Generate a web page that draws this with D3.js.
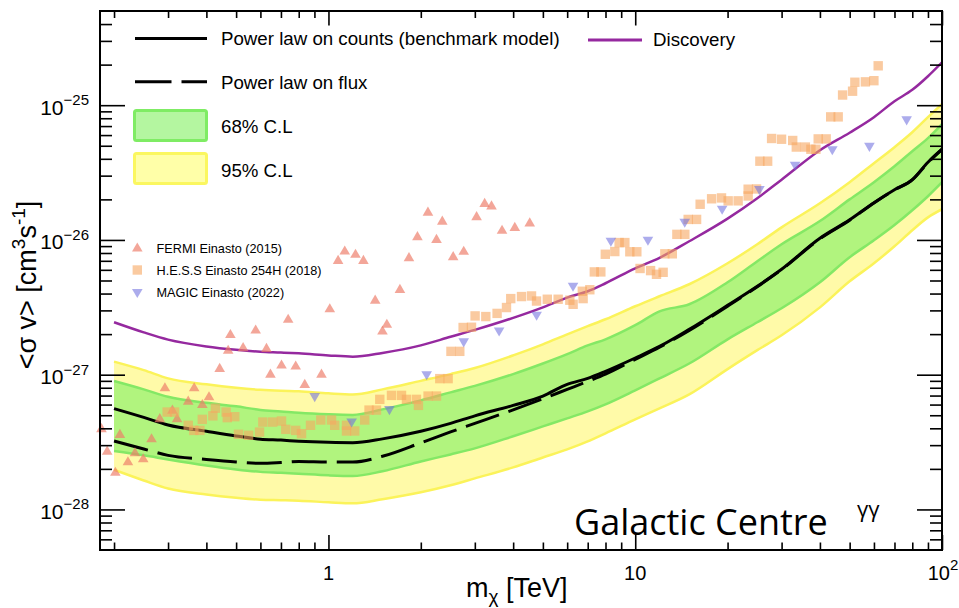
<!DOCTYPE html>
<html>
<head>
<meta charset="utf-8">
<script src="https://cdn.jsdelivr.net/npm/d3@7"></script>
<style>
  body { margin: 0; background: #fff; }
  svg { display: block; }
</style>
</head>
<body>
<svg id="chart" width="959" height="608"></svg>
<script>
// ---- Expected limits on <sigma v> for DM -> gamma gamma, Galactic Centre ----
// Dark-matter mass grid (TeV) on which the limit curves and bands are given
const massGrid = [0.2, 0.25, 0.3, 0.4, 0.5, 0.6, 0.7, 0.8, 1, 1.2, 1.5, 2, 2.5, 3, 4, 5, 6, 7, 8,
  10, 12, 15, 20, 25, 30, 40, 50, 60, 70, 80, 90, 100];

// Power law on counts (benchmark model), cm^3 s^-1
const countsLimit = [5.60e-28, 4.82e-28, 4.23e-28, 3.80e-28, 3.51e-28, 3.32e-28, 3.27e-28, 3.21e-28,
  3.15e-28, 3.13e-28, 3.34e-28, 3.80e-28, 4.35e-28, 4.95e-28, 5.92e-28, 6.94e-28, 8.48e-28, 9.39e-28,
  1.06e-27, 1.33e-27, 1.62e-27, 2.17e-27, 3.27e-27, 4.53e-27, 6.06e-27, 1.03e-26, 1.41e-26, 1.89e-26,
  2.36e-26, 2.80e-26, 3.77e-26, 4.71e-26];

// Power law on flux
const fluxLimit = [3.22e-28, 2.81e-28, 2.52e-28, 2.35e-28, 2.25e-28, 2.20e-28, 2.23e-28, 2.27e-28,
  2.25e-28, 2.25e-28, 2.48e-28, 3.12e-28, 3.76e-28, 4.35e-28, 5.48e-28, 6.62e-28, 7.78e-28, 8.92e-28,
  1.01e-27, 1.30e-27, 1.60e-27, 2.13e-27, 3.22e-27, 4.50e-27, 6.03e-27, 1.02e-26, 1.40e-26, 1.88e-26,
  2.35e-26, 2.79e-26, 3.75e-26, 4.70e-26];

// Discovery reach
const discovery = [2.45e-27, 2.06e-27, 1.82e-27, 1.62e-27, 1.53e-27, 1.48e-27, 1.46e-27, 1.44e-27,
  1.39e-27, 1.36e-27, 1.45e-27, 1.65e-27, 1.91e-27, 2.15e-27, 2.64e-27, 3.16e-27, 3.73e-27, 4.16e-27,
  4.77e-27, 6.16e-27, 7.37e-27, 9.78e-27, 1.44e-26, 2.04e-26, 2.80e-26, 4.63e-26, 6.25e-26, 8.15e-26,
  1.07e-25, 1.30e-25, 1.64e-25, 2.08e-25];

// 68% containment band
const band68High = [8.97e-28, 7.78e-28, 6.85e-28, 6.18e-28, 5.82e-28, 5.48e-28, 5.34e-28, 5.21e-28,
  5.08e-28, 5.03e-28, 5.53e-28, 6.45e-28, 7.39e-28, 8.26e-28, 1.01e-27, 1.21e-27, 1.42e-27, 1.65e-27,
  1.83e-27, 2.33e-27, 2.95e-27, 3.33e-27, 4.85e-27, 6.95e-27, 9.29e-27, 1.38e-26, 2.00e-26, 2.68e-26,
  3.52e-26, 4.55e-26, 5.69e-26, 7.23e-26];
const band68Low = [2.71e-28, 2.52e-28, 2.35e-28, 2.12e-28, 1.98e-28, 1.90e-28, 1.87e-28, 1.84e-28,
  1.79e-28, 1.77e-28, 1.92e-28, 2.27e-28, 2.56e-28, 2.84e-28, 3.49e-28, 4.13e-28, 4.74e-28, 5.34e-28,
  6.02e-28, 7.65e-28, 9.39e-28, 1.21e-27, 1.83e-27, 2.45e-27, 3.11e-27, 4.85e-27, 7.44e-27, 9.94e-27,
  1.29e-26, 1.66e-26, 2.11e-26, 2.68e-26];

// 95% containment band
const band95High = [1.25e-27, 1.08e-27, 9.39e-28, 8.48e-28, 7.99e-28, 7.72e-28, 7.59e-28, 7.52e-28,
  7.27e-28, 7.14e-28, 7.78e-28, 9.00e-28, 1.01e-27, 1.12e-27, 1.39e-27, 1.68e-27, 1.99e-27, 2.29e-27,
  2.58e-27, 3.22e-27, 3.82e-27, 4.69e-27, 6.71e-27, 9.29e-27, 1.24e-26, 1.87e-26, 2.68e-26, 3.71e-26,
  4.88e-26, 6.30e-26, 8.15e-26, 1.02e-25];
const band95Low = [1.97e-28, 1.64e-28, 1.43e-28, 1.29e-28, 1.22e-28, 1.18e-28, 1.17e-28, 1.16e-28,
  1.13e-28, 1.11e-28, 1.19e-28, 1.34e-28, 1.51e-28, 1.70e-28, 2.05e-28, 2.43e-28, 2.79e-28, 3.20e-28,
  3.67e-28, 4.66e-28, 5.62e-28, 7.14e-28, 1.10e-27, 1.52e-27, 1.96e-27, 3.16e-27, 4.93e-27, 6.71e-27,
  8.97e-27, 1.18e-26, 1.47e-26, 1.69e-26];

// FERMI Einasto (2015)
const fermiMass = [0.182, 0.190, 0.202, 0.209, 0.222, 0.234, 0.249, 0.265, 0.282, 0.293, 0.310, 0.321,
  0.349, 0.365, 0.388, 0.408, 0.442, 0.471, 0.479, 0.527, 0.579, 0.628, 0.647, 0.703, 0.739, 0.782,
  0.837, 0.949, 1.01, 1.075, 1.13, 1.225, 1.30, 1.42, 1.50, 1.55, 1.71, 1.83, 1.95, 2.11, 2.25, 2.35,
  2.55, 2.76, 3.04, 3.23, 3.40, 3.68, 4.05, 4.53];
const fermiSigmaV = [3.98e-28, 2.71e-28, 1.89e-28, 3.61e-28, 2.26e-28, 2.64e-28, 2.38e-28, 3.35e-28,
  4.72e-28, 8.01e-28, 5.46e-28, 4.72e-28, 6.37e-28, 8.01e-28, 6.02e-28, 6.87e-28, 1.115e-27, 1.52e-27,
  1.99e-27, 1.59e-27, 2.15e-27, 1.57e-27, 1.01e-27, 1.18e-27, 2.58e-27, 1.16e-27, 8.48e-28, 1.01e-27,
  3.09e-27, 7.06e-27, 8.28e-27, 7.83e-27, 7.06e-27, 3.58e-27, 2.11e-27, 2.37e-27, 4.30e-27, 7.40e-27,
  1.06e-26, 1.61e-26, 1.01e-26, 1.38e-26, 7.53e-27, 8.24e-27, 1.49e-26, 1.87e-26, 1.79e-26, 1.18e-26,
  1.24e-26, 1.34e-26];

// H.E.S.S Einasto 254H (2018)
const hessMass = [0.298, 0.315, 0.349, 0.364, 0.381, 0.388, 0.420, 0.428, 0.464, 0.468,
  0.495, 0.509, 0.549, 0.596, 0.611, 0.658, 0.703, 0.726, 0.782, 0.817,
  0.874, 0.944, 1.023, 1.048, 1.145, 1.145, 1.218, 1.313, 1.356, 1.434,
  1.470, 1.605, 1.730, 1.796, 1.936, 1.965, 2.112, 2.250, 2.306, 2.455,
  2.508, 2.680, 2.748, 2.926, 3.006, 3.258, 3.546, 3.805, 3.929, 4.259,
  4.591, 4.767, 5.169, 5.607, 6.121, 6.274, 6.723, 6.763, 7.112, 7.356,
  7.724, 7.989, 8.580, 8.862, 9.250, 9.603, 10.12, 10.37, 11.22, 11.73,
  12.33, 12.49, 13.21, 13.67, 14.51, 14.88, 15.85, 16.28, 17.74, 19.11,
  20.09, 21.65, 23.34, 23.34, 24.86, 25.49, 27.02, 27.83, 29.99, 32.61,
  33.50, 35.86, 37.38, 38.81, 39.49, 41.92, 43.37, 45.88, 47.42, 51.11,
  52.00, 56.27, 59.98, 61.94];
const hessSigmaV = [5.28e-28, 5.28e-28, 4.21e-28, 3.86e-28, 3.86e-28, 4.66e-28, 4.95e-28, 5.64e-28, 5.28e-28, 4.80e-28,
  4.88e-28, 3.61e-28, 3.55e-28, 3.75e-28, 4.45e-28, 4.45e-28, 4.53e-28, 3.93e-28, 3.86e-28, 3.65e-28,
  4.21e-28, 4.61e-28, 4.61e-28, 4.21e-28, 4.21e-28, 3.82e-28, 3.82e-28, 4.61e-28, 5.46e-28, 5.46e-28,
  6.56e-28, 7.02e-28, 7.02e-28, 6.56e-28, 6.56e-28, 5.92e-28, 6.94e-28, 6.94e-28, 9.35e-28, 9.35e-28,
  1.49e-27, 1.49e-27, 2.24e-27, 2.25e-27, 2.73e-27, 2.70e-27, 2.85e-27, 3.15e-27, 3.67e-27, 3.80e-27,
  3.84e-27, 3.52e-27, 3.63e-27, 3.63e-27, 3.57e-27, 3.33e-27, 4.16e-27, 3.67e-27, 4.27e-27, 5.79e-27,
  5.79e-27, 7.83e-27, 8.20e-27, 9.56e-27, 9.56e-27, 8.17e-27, 8.17e-27, 6.14e-27, 5.92e-27, 5.56e-27,
  5.75e-27, 7.89e-27, 7.89e-27, 1.10e-26, 1.10e-26, 1.42e-26, 1.42e-26, 1.84e-26, 2.02e-26, 2.05e-26,
  1.95e-26, 1.95e-26, 2.12e-26, 2.38e-26, 2.39e-26, 3.84e-26, 3.84e-26, 5.66e-26, 5.59e-26, 5.47e-26,
  4.89e-26, 4.89e-26, 4.71e-26, 4.71e-26, 5.62e-26, 5.62e-26, 8.19e-26, 8.19e-26, 1.19e-25, 1.27e-25,
  1.48e-25, 1.49e-25, 1.52e-25, 1.96e-25];

// MAGIC Einasto (2022)
const magicMass = [0.902, 1.19, 1.58, 2.09, 2.76, 3.60, 4.77, 6.27, 8.33, 11.0, 14.5, 19.2, 25.4,
  33.2, 43.9, 58.0, 76.7];
const magicSigmaV = [6.87e-28, 4.45e-28, 5.50e-28, 9.97e-28, 1.75e-27, 2.11e-27, 2.76e-27, 4.53e-27,
  9.78e-27, 9.94e-27, 1.35e-26, 1.69e-26, 2.36e-26, 3.58e-26, 4.66e-26, 4.94e-26, 7.78e-26];

// Axis ranges and labelled ticks
const massRange = [0.18, 100];
const sigmaRange = [5e-29, 5e-25];
const xMajorTicks = [1, 10, 100];
const xTickLabels = [["1", ""], ["10", ""], ["10", "2"]];
const yMajorTicks = [1e-28, 1e-27, 1e-26, 1e-25];
const yTickLabels = [["10", "\u221228"], ["10", "\u221227"], ["10", "\u221226"], ["10", "\u221225"]];

// ---------------------------------------------------------------------------
const SANS = "'Liberation Sans', Arial, Helvetica, sans-serif";
const svg = d3.select("#chart");
const frame = { left: 100, top: 11, right: 942, bottom: 550 };

svg.append("rect").attr("width", 959).attr("height", 608).attr("fill", "#fff");

const x = d3.scaleLog().domain(massRange).range([frame.left, frame.right]);
const y = d3.scaleLog().domain(sigmaRange).range([frame.bottom, frame.top]);

svg.append("clipPath").attr("id", "plot-clip")
  .append("rect").attr("x", frame.left).attr("y", frame.top)
  .attr("width", frame.right - frame.left).attr("height", frame.bottom - frame.top);

const plot = svg.append("g").attr("clip-path", "url(#plot-clip)");

const rows = massGrid.map((m, i) => ({
  m,
  counts: countsLimit[i], flux: fluxLimit[i], disc: discovery[i],
  lo68: band68Low[i], hi68: band68High[i], lo95: band95Low[i], hi95: band95High[i]
}));

const curve = d3.curveMonotoneX;
const area = (lo, hi) => d3.area().curve(curve)
  .x(d => x(d.m)).y0(d => y(d[lo])).y1(d => y(d[hi]));
const line = key => d3.line().curve(curve).x(d => x(d.m)).y(d => y(d[key]));

// 95% band with its edges
plot.append("path").datum(rows).attr("d", area("lo95", "hi95")(rows))
  .attr("fill", "#fffaa8");
["lo95", "hi95"].forEach(k => plot.append("path").attr("d", line(k)(rows))
  .attr("fill", "none").attr("stroke", "#fbf35a").attr("stroke-width", 2.5));

// 68% band with its edges
plot.append("path").attr("d", area("lo68", "hi68")(rows)).attr("fill", "#b1f47e");
["lo68", "hi68"].forEach(k => plot.append("path").attr("d", line(k)(rows))
  .attr("fill", "none").attr("stroke", "#84e865").attr("stroke-width", 2.5));

// limit curves
plot.append("path").attr("d", line("flux")(rows)).attr("fill", "none")
  .attr("stroke", "#000").attr("stroke-width", 3).attr("stroke-dasharray", "35,10");
plot.append("path").attr("d", line("counts")(rows)).attr("fill", "none")
  .attr("stroke", "#000").attr("stroke-width", 3);
plot.append("path").attr("d", line("disc")(rows)).attr("fill", "none")
  .attr("stroke", "#95299f").attr("stroke-width", 2.5);

// published limits as markers
const triUp = "M0,-5.5L5.3,3.6L-5.3,3.6Z";
const triDown = "M0,5.5L5.3,-3.6L-5.3,-3.6Z";
const square = "M-4.7,-4.7H4.7V4.7H-4.7Z";
const styles = {
  fermi: { path: triUp, fill: "rgb(238,124,104)", op: 0.68 },
  hess: { path: square, fill: "rgb(246,166,96)", op: 0.6 },
  magic: { path: triDown, fill: "rgb(112,112,222)", op: 0.58 }
};
function drawMarkers(mass, vals, st) {
  svg.append("g").selectAll("path").data(mass.map((m, i) => [m, vals[i]])).join("path")
    .attr("d", st.path)
    .attr("transform", d => `translate(${x(d[0])},${y(d[1])})`)
    .attr("fill", st.fill).attr("fill-opacity", st.op);
}
drawMarkers(fermiMass, fermiSigmaV, styles.fermi);
drawMarkers(hessMass, hessSigmaV, styles.hess);
drawMarkers(magicMass, magicSigmaV, styles.magic);

// ---- axes: ticks on all four sides, pointing inward ----
const xMinorTicks = [];
[0.1, 1, 10].forEach(d => { for (let k = 2; k <= 9; k++) { const v = k * d; if (v > massRange[0]) xMinorTicks.push(v); } });
const yMinorTicks = [];
[1e-29, 1e-28, 1e-27, 1e-26, 1e-25].forEach(d => { for (let k = 2; k <= 9; k++) { const v = k * d; if (v > sigmaRange[0] * 1.01 && v < sigmaRange[1] * 0.99) yMinorTicks.push(v); } });

function ticks(axis, tr, values, size) {
  svg.append("g").attr("transform", tr)
    .call(axis.tickValues(values).tickSize(size).tickSizeOuter(0).tickFormat(() => ""))
    .call(g => g.select(".domain").remove())
    .call(g => g.selectAll("line").attr("stroke", "#000").attr("stroke-width", 1.6));
}
ticks(d3.axisTop(x), `translate(0,${frame.bottom})`, xMinorTicks, 7.5);
ticks(d3.axisTop(x), `translate(0,${frame.bottom})`, xMajorTicks, 15);
ticks(d3.axisBottom(x), `translate(0,${frame.top})`, xMinorTicks, 7);
ticks(d3.axisBottom(x), `translate(0,${frame.top})`, xMajorTicks, 14.5);
ticks(d3.axisRight(y), `translate(${frame.left},0)`, yMinorTicks, 12);
ticks(d3.axisRight(y), `translate(${frame.left},0)`, yMajorTicks, 25);
ticks(d3.axisLeft(y), `translate(${frame.right},0)`, yMinorTicks, 12);
ticks(d3.axisLeft(y), `translate(${frame.right},0)`, yMajorTicks, 25);

// tick labels
yMajorTicks.forEach((v, i) => {
  const t = svg.append("text").attr("x", 89).attr("y", y(v) + 9.5)
    .attr("text-anchor", "end").attr("font-family", SANS).attr("fill", "#000");
  t.append("tspan").attr("font-size", 21).text(yTickLabels[i][0]);
  t.append("tspan").attr("font-size", 15).attr("dy", -9.5).text(yTickLabels[i][1]);
});
xMajorTicks.forEach((v, i) => {
  const t = svg.append("text").attr("x", x(v) + (xTickLabels[i][1] ? 1 : 0)).attr("y", 580)
    .attr("text-anchor", "middle").attr("font-family", SANS).attr("fill", "#000");
  t.append("tspan").attr("font-size", 20).text(xTickLabels[i][0]);
  if (xTickLabels[i][1]) t.append("tspan").attr("font-size", 15).attr("dy", -10).text(xTickLabels[i][1]);
});

// axis titles
const xt = svg.append("text").attr("x", 466).attr("y", 597)
  .attr("font-family", SANS).attr("font-size", 27).attr("fill", "#000");
xt.append("tspan").text("m");
xt.append("tspan").attr("font-size", 19).attr("dy", 6).text("\u03c7");
xt.append("tspan").attr("dy", -6).text(" [TeV]");

const yt = svg.append("text").attr("transform", "translate(36,285) rotate(-90)")
  .attr("text-anchor", "middle").attr("font-family", SANS).attr("font-size", 27).attr("fill", "#000");
yt.append("tspan").text("<\u03c3 v> [cm");
yt.append("tspan").attr("font-size", 19).attr("dy", -11).text("3");
yt.append("tspan").attr("dy", 11).text("s");
yt.append("tspan").attr("font-size", 19).attr("dy", -11).text("-1");
yt.append("tspan").attr("dy", 11).text("]");

// ---- legends ----
const leg = svg.append("g").attr("font-family", SANS).attr("fill", "#000");
leg.append("line").attr("x1", 135).attr("x2", 207).attr("y1", 38.5).attr("y2", 38.5)
  .attr("stroke", "#000").attr("stroke-width", 3);
leg.append("text").attr("x", 221).attr("y", 45).attr("font-size", 18.7)
  .text("Power law on counts (benchmark model)");
leg.append("line").attr("x1", 588).attr("x2", 642).attr("y1", 40).attr("y2", 40)
  .attr("stroke", "#95299f").attr("stroke-width", 3);
leg.append("text").attr("x", 653).attr("y", 46).attr("font-size", 18.7).text("Discovery");
leg.append("line").attr("x1", 135).attr("x2", 207).attr("y1", 81.7).attr("y2", 81.7)
  .attr("stroke", "#000").attr("stroke-width", 3).attr("stroke-dasharray", "36.5,10");
leg.append("text").attr("x", 221).attr("y", 89).attr("font-size", 18.7).text("Power law on flux");
leg.append("rect").attr("x", 134.5).attr("y", 110.5).attr("width", 72).attr("height", 30)
  .attr("rx", 2).attr("fill", "#b4f6a0").attr("stroke", "#7fec64").attr("stroke-width", 3);
leg.append("text").attr("x", 221).attr("y", 133).attr("font-size", 18.7).text("68% C.L");
leg.append("rect").attr("x", 134.5).attr("y", 153.5).attr("width", 72).attr("height", 30)
  .attr("rx", 2).attr("fill", "#ffffa8").attr("stroke", "#fbf760").attr("stroke-width", 3);
leg.append("text").attr("x", 221).attr("y", 176.5).attr("font-size", 18.7).text("95% C.L");

const small = [
  { st: styles.fermi, cy: 248, label: "FERMI Einasto (2015)" },
  { st: styles.hess, cy: 270, label: "H.E.S.S Einasto 254H (2018)" },
  { st: styles.magic, cy: 292.5, label: "MAGIC Einasto (2022)" }
];
small.forEach(s => {
  leg.append("path").attr("d", s.st.path).attr("transform", `translate(137.3,${s.cy})`)
    .attr("fill", s.st.fill).attr("fill-opacity", s.st.op);
  leg.append("text").attr("x", 156.5).attr("y", s.cy + 4.6).attr("font-size", 12.7).text(s.label);
});

// region label
const reg = svg.append("g").attr("font-family", "'Open Sans', 'Noto Sans', sans-serif").attr("fill", "#000");
reg.append("text").attr("x", 574).attr("y", 535).attr("font-size", 36).text("Galactic Centre");
reg.append("text").attr("x", 857).attr("y", 517).attr("font-size", 22).text("\u03b3\u03b3");

// frame
svg.append("rect").attr("x", frame.left).attr("y", frame.top)
  .attr("width", frame.right - frame.left).attr("height", frame.bottom - frame.top)
  .attr("fill", "none").attr("stroke", "#000").attr("stroke-width", 2);
</script>
</body>
</html>
